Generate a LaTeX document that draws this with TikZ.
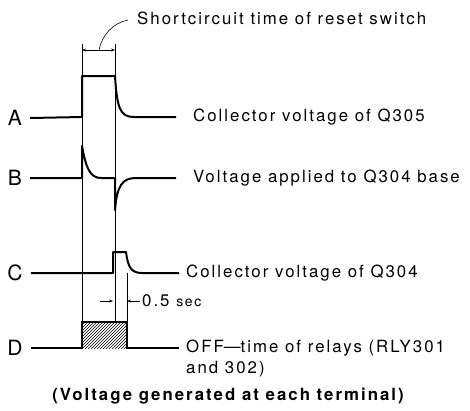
\documentclass[tikz,border=0pt]{standalone}
\usepackage{fontspec}
\setmainfont{TeX Gyre Heros}
\newfontfamily\lblfont[LetterSpace=12]{TeX Gyre Heros}
\usetikzlibrary{arrows.meta,patterns}

\tikzset{
  wave/.style={line width=2pt, line join=round},
  guide/.style={line width=0.6pt},
  dim/.style={line width=0.6pt, >={Stealth[length=4pt,width=3pt]}},
  tag/.style={font=\fontsize{21}{21}\selectfont, inner sep=0pt},
  desc/.style={anchor=west, inner sep=0pt, font=\lblfont\fontsize{16.8}{21}\selectfont, align=left},
}

\begin{document}
\begin{tikzpicture}[x=1pt, y=-1pt]
  \useasboundingbox (0,0) rectangle (470,410);

  % terminal names
  \node[tag] (tA) at (15,118) {A};
  \node[tag] (tB) at (15,178) {B};
  \node[tag] (tC) at (15,273) {C};
  \node[tag] (tD) at (15,348) {D};

  % descriptions
  \node[desc] (dA) at (193,117) {Collector voltage of Q305};
  \node[desc] (dB) at (193,178) {Voltage applied to Q304 base};
  \node[desc] (dC) at (186,273) {Collector voltage of Q304};
  \node[desc, anchor=north west] (dD) at (186,340) {OFF{\addfontfeature{LetterSpace=0}—}time of relays (RLY301\\and 302)};
  \node[desc] (half) at (142,301) {0.5 {\fontsize{14}{16}\selectfont sec}};
  \node[desc] (sc) at (137,18) {Shortcircuit time of reset switch};
  \node[font=\lblfont\bfseries\fontsize{16.8}{21}\selectfont] (cap) at (228,396)
    {(Voltage generated at each terminal)};

  % time marks
  \coordinate (on) at (82,44);
  \coordinate (off) at (115,44);
  \coordinate (relay) at (127,273);
  \coordinate (lead) at (128,20);
  \draw[guide] (on) -- (82,322);
  \draw[guide] (off) -- (115,322);
  \draw[guide] (relay) -- (127,322);

  % shortcircuit time
  \draw[dim, <->] (82,50) -- (115,50);
  \draw[guide] (99,50) .. controls (102,35) and (113,23) .. (lead);

  % A
  \draw[wave] (tA.east) ++(8,0) -- (82,117) -- (82,76) -- (115,76)
    .. controls (117,108) and (120,117) .. (134,117) -- (176,117);
  % B
  \draw[wave] (tB.east) ++(8,0) -- (82,178) -- (82,146)
    .. controls (86,168) and (90,178) .. (101,178) -- (115,178) -- (115,210)
    .. controls (117,186) and (122,178) .. (136,178) -- (176,178);
  % C
  \draw[wave] (tC.east) ++(8,0) -- (113,273) -- (113,252) -- (126,252)
    .. controls (128,267) and (131,273) .. (142,273) -- (179,273);
  % D
  \fill[pattern=north east lines] (82,322) rectangle (127,348);
  \draw[line width=1.2pt] (tD.east) ++(8,0) -- (82,348) -- (82,322) -- (127,322)
    -- (127,348) -- (179,348);

  % 0.5 sec
  \draw[dim, ->] (100,301) -- (113,301);
  \draw[dim, ->] (140,301) -- (127,301);
\end{tikzpicture}
\end{document}
